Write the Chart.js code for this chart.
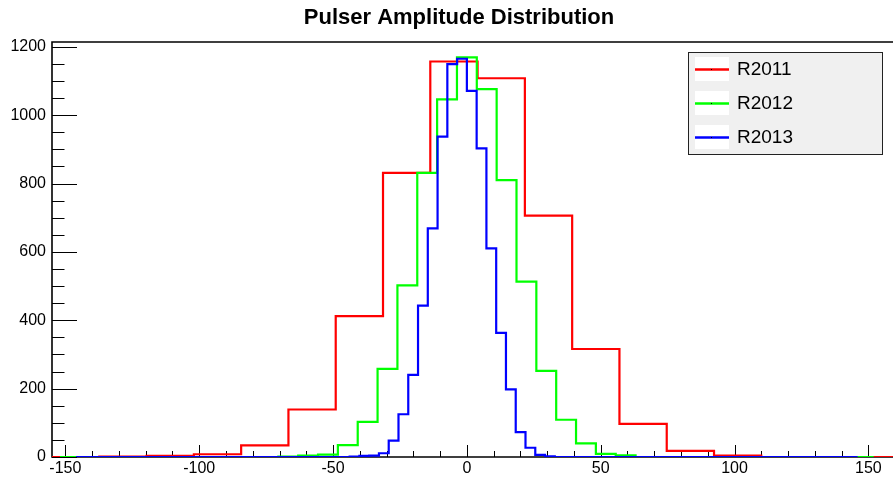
<!DOCTYPE html>
<html><head><meta charset="utf-8">
<script src="https://cdn.jsdelivr.net/npm/chart.js@4.4.1/dist/chart.umd.min.js"></script>
<style>html,body{margin:0;padding:0;background:#fff;overflow:hidden;}</style>
</head><body>
<canvas id="c" width="893" height="477"></canvas>
<script>
const chartTitle = 'Pulser Amplitude Distribution';
const seriesNames = ['R2011', 'R2012', 'R2013'];
const seriesColors = ['#ff0000', '#00ff00', '#0000ff'];

// histogram ranges [low edge, high edge]; bins are equal width
const r2011Range = [-155, 163];
const r2012Range = [-152, 152];
const r2013Range = [-146, 146];

// bin contents
const r2011Counts = [0, 1, 3, 8, 34, 139, 412, 831, 1157, 1108, 706, 316, 97, 18, 4, 0, 0, 0];
const r2012Counts = [0, 0, 0, 0, 0, 0, 0, 0, 0, 0, 0, 1, 4, 7, 35, 103, 258, 502, 831, 1046,
  1169, 1076, 810, 513, 252, 109, 40, 9, 5, 0, 0, 0, 0, 0, 0, 0, 0, 0, 0, 0, 0];
const r2013Counts = [0, 0, 0, 0, 0, 0, 0, 0, 0, 0, 0, 0, 0, 0, 0, 0, 0, 0, 0, 0,
  0, 0, 0, 0, 0, 0, 0, 0, 1, 3, 4, 11, 48, 125, 240, 443, 669, 937, 1149, 1165,
  1071, 903, 610, 363, 198, 73, 27, 6, 2, 0, 0, 0, 0, 0, 0, 0, 0, 0, 0, 0,
  0, 0, 0, 0, 0, 0, 0, 0, 0, 0, 0, 0, 0, 0, 0, 0, 0, 0, 0, 0];

const xTickLabels = [-150, -100, -50, 0, 50, 100, 150];
const yTickLabels = [0, 200, 400, 600, 800, 1000, 1200];
const xMinorStep = 10;
const yMinorStep = 50;

const FONT = '"Liberation Sans", Arial, Helvetica, sans-serif';

function histPoints(range, counts) {
  const w = (range[1] - range[0]) / counts.length;
  const pts = counts.map((c, i) => ({ x: range[0] + i * w, y: c }));
  pts.push({ x: range[1], y: counts[counts.length - 1] });
  return pts;
}

const rootStyle = {
  id: 'rootStyle',
  beforeDatasetsDraw(chart) {
    const { ctx, chartArea: a, scales: { x, y } } = chart;
    ctx.save();
    ctx.strokeStyle = '#000';
    ctx.lineWidth = 1;
    ctx.beginPath();
    for (let v = 0; v <= y.max; v += yMinorStep) {
      const p = Math.round(y.getPixelForValue(v)) + 0.5;
      const len = yTickLabels.includes(v) ? 25 : 12.5;
      ctx.moveTo(a.left, p); ctx.lineTo(a.left + len, p);
    }
    for (let v = xTickLabels[0]; v <= x.max; v += xMinorStep) {
      const p = Math.round(x.getPixelForValue(v)) + 0.5;
      const len = xTickLabels.includes(v) ? 12 : 6;
      ctx.moveTo(p, a.bottom); ctx.lineTo(p, a.bottom - len);
    }
    ctx.stroke();
    ctx.lineWidth = 1.6;
    ctx.beginPath();
    ctx.moveTo(a.right + 2, a.top); ctx.lineTo(a.left, a.top);
    ctx.lineTo(a.left, a.bottom); ctx.lineTo(a.right + 2, a.bottom);
    ctx.stroke();
    ctx.restore();
  },
  afterDatasetsDraw(chart) {
    const { ctx } = chart;
    ctx.save();
    const bx = 688, by = 52.5, bw = 194, bh = 102;
    ctx.fillStyle = '#f0f0f0';
    ctx.fillRect(bx, by, bw, bh);
    ctx.strokeStyle = '#222';
    ctx.lineWidth = 1;
    ctx.strokeRect(bx + 0.5, by, bw, bh);
    const rowY = [69, 103, 137];
    chart.data.datasets.forEach((ds, i) => {
      const cy = rowY[i];
      ctx.fillStyle = '#fff';
      ctx.fillRect(695, cy - 12, 34, 24);
      ctx.strokeStyle = ds.borderColor;
      ctx.lineWidth = 2.5;
      ctx.beginPath(); ctx.moveTo(695, cy + 0.5); ctx.lineTo(729, cy + 0.5); ctx.stroke();
      ctx.fillStyle = '#000';
      ctx.fillRect(711, cy, 1, 1);
      ctx.font = '19px ' + FONT;
      ctx.textAlign = 'left';
      ctx.textBaseline = 'middle';
      ctx.fillText(ds.label, 737, cy + 1);
    });
    ctx.fillStyle = '#000';
    ctx.font = 'bold 22px ' + FONT;
    ctx.textAlign = 'center';
    ctx.textBaseline = 'middle';
    ctx.fillText(chartTitle, 459, 18);
    ctx.restore();
  }
};

const datasets = [
  { label: seriesNames[0], data: histPoints(r2011Range, r2011Counts), borderColor: seriesColors[0], order: 2 },
  { label: seriesNames[1], data: histPoints(r2012Range, r2012Counts), borderColor: seriesColors[1], order: 1 },
  { label: seriesNames[2], data: histPoints(r2013Range, r2013Counts), borderColor: seriesColors[2], order: 0 }
].map(d => Object.assign(d, {
  stepped: 'before', borderWidth: 2.2, pointRadius: 0, fill: false, tension: 0
}));

new Chart(document.getElementById('c'), {
  type: 'line',
  data: { datasets },
  options: {
    responsive: false,
    animation: false,
    devicePixelRatio: 1,
    layout: { padding: { top: 42, right: 0, left: 0, bottom: 0 } },
    plugins: { legend: { display: false }, title: { display: false }, tooltip: { enabled: false } },
    scales: {
      x: {
        type: 'linear', min: -155, max: 159.2,
        grid: { display: false, drawTicks: false },
        border: { display: false },
        afterBuildTicks: s => { s.ticks = xTickLabels.map(v => ({ value: v })); },
        afterFit: s => { s.height = 20; },
        ticks: { padding: 2, color: '#000', font: { family: FONT, size: 16 }, autoSkip: false, maxRotation: 0,
          callback: v => String(v) }
      },
      y: {
        type: 'linear', min: 0, max: 1214,
        grid: { display: false, drawTicks: false },
        border: { display: false },
        afterBuildTicks: s => { s.ticks = yTickLabels.map(v => ({ value: v })); },
        afterFit: s => { s.width = 52; },
        ticks: { padding: 6, color: '#000', font: { family: FONT, size: 16 }, autoSkip: false,
          callback: v => String(v) }
      }
    }
  },
  plugins: [rootStyle]
});
</script>
</body></html>
